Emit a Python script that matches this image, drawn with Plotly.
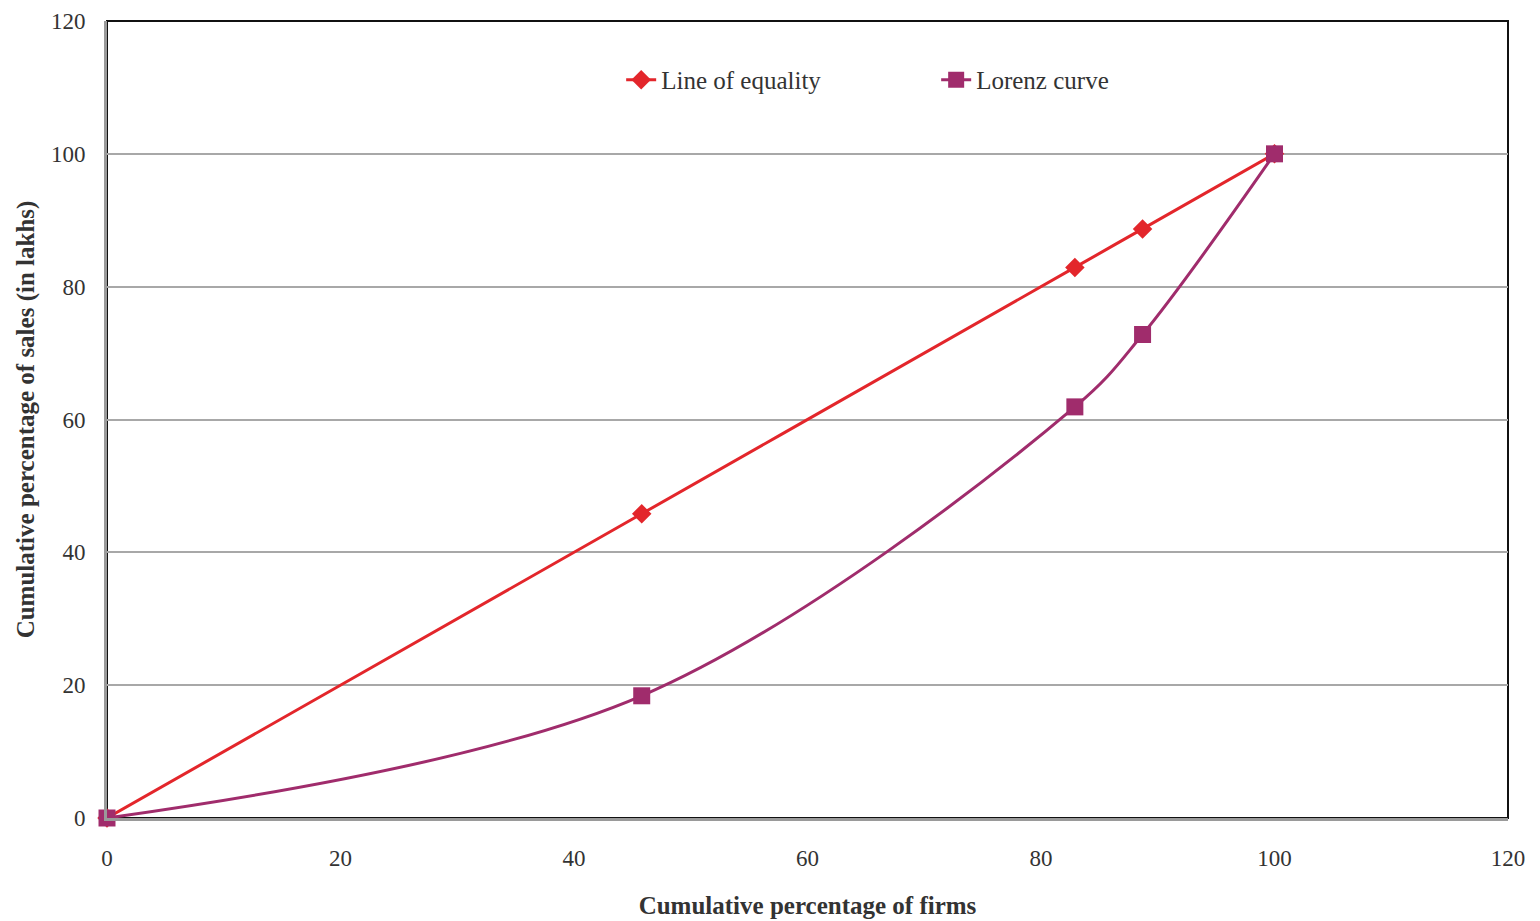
import plotly.graph_objects as go

# Cumulative shares (percent)
firms_pct = [0, 45.8, 82.9, 88.7, 100]
equality_pct = [0, 45.8, 82.9, 88.7, 100]
sales_pct = [0, 18.4, 61.9, 72.8, 100]

x_ticks = [0, 20, 40, 60, 80, 100, 120]
y_ticks = [0, 20, 40, 60, 80, 100, 120]

RED = "#E3262B"
PURPLE = "#A02C6C"
FONT = "Liberation Serif, Times New Roman, serif"
TEXT = "#333333"

fig = go.Figure()
fig.add_trace(go.Scatter(
    x=firms_pct, y=equality_pct, name="Line of equality",
    mode="lines+markers", line=dict(color=RED, width=3, shape="spline"),
    marker=dict(symbol="diamond", size=15, color=RED), cliponaxis=False,
))
fig.add_trace(go.Scatter(
    x=firms_pct, y=sales_pct, name="Lorenz curve",
    mode="lines+markers", line=dict(color=PURPLE, width=3, shape="spline"),
    marker=dict(symbol="square", size=17, color=PURPLE), cliponaxis=False,
))

# black frame; left and bottom axis lines are drawn grey over it
fig.add_shape(type="rect", xref="paper", yref="paper", x0=0, y0=0, x1=1, y1=1,
              line=dict(color="#111111", width=2), layer="below")

fig.update_layout(
    width=1540, height=921,
    margin=dict(l=107, r=32, t=21, b=103),
    paper_bgcolor="white", plot_bgcolor="white",
    font=dict(family=FONT, size=23, color=TEXT),
    showlegend=True,
    legend=dict(orientation="h", x=0.367, y=0.926, xanchor="left", yanchor="middle",
                font=dict(family=FONT, size=25, color=TEXT),
                entrywidth=270, bgcolor="rgba(0,0,0,0)"),
    xaxis=dict(range=[0, 120], tickvals=x_ticks, showgrid=False, zeroline=False,
               showline=True, linecolor="#9a9a9a", linewidth=3, ticks="",
               ticklabelstandoff=17, automargin=False,
               title=dict(text="<b>Cumulative percentage of firms</b>", standoff=27,
                          font=dict(family=FONT, size=25, color=TEXT))),
    yaxis=dict(range=[0, 120], tickvals=y_ticks, showgrid=True, gridcolor="#a8a8a8",
               gridwidth=2, zeroline=False,
               showline=True, linecolor="#9a9a9a", linewidth=3, ticks="",
               ticklabelstandoff=14, automargin=False,
               title=dict(text="<b>Cumulative percentage of sales (in lakhs)</b>", standoff=10,
                          font=dict(family=FONT, size=25, color=TEXT))),
)

fig.write_html("out.html")
